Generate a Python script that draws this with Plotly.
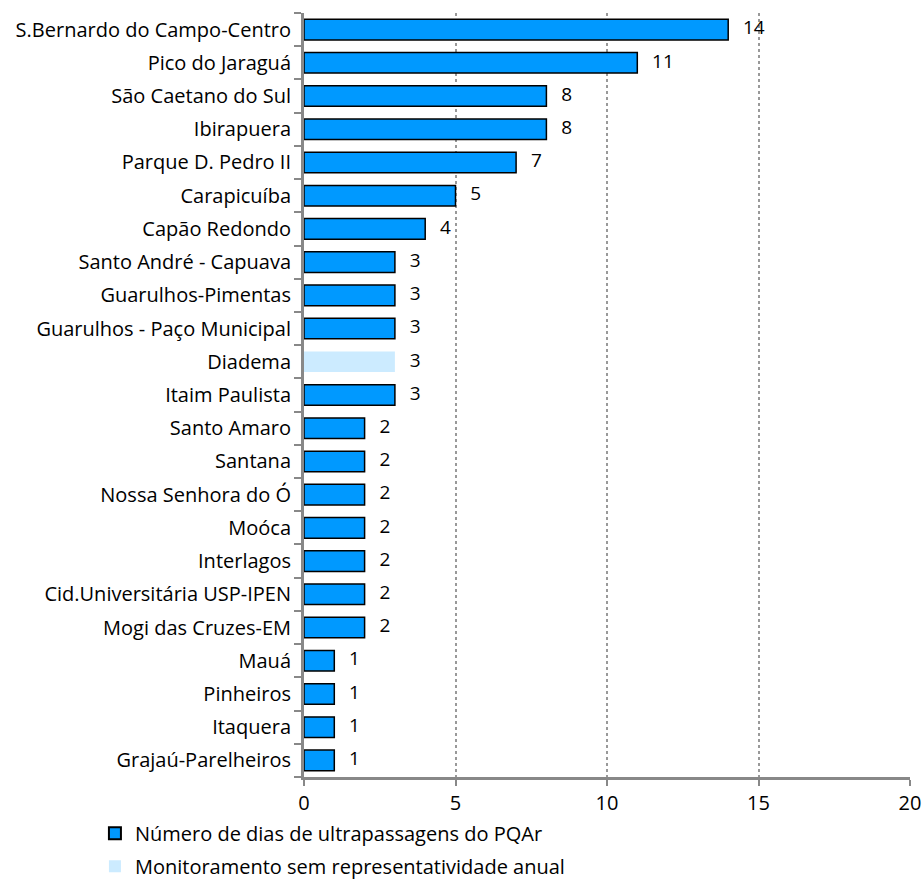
import plotly.graph_objects as go

stations = ["S.Bernardo do Campo-Centro", "Pico do Jaraguá", "São Caetano do Sul", "Ibirapuera",
            "Parque D. Pedro II", "Carapicuíba", "Capão Redondo", "Santo André - Capuava",
            "Guarulhos-Pimentas", "Guarulhos - Paço Municipal", "Diadema", "Itaim Paulista",
            "Santo Amaro", "Santana", "Nossa Senhora do Ó", "Moóca", "Interlagos",
            "Cid.Universitária USP-IPEN", "Mogi das Cruzes-EM", "Mauá", "Pinheiros",
            "Itaquera", "Grajaú-Parelheiros"]
days = [14, 11, 8, 8, 7, 5, 4, 3, 3, 3, 3, 3, 2, 2, 2, 2, 2, 2, 2, 1, 1, 1, 1]
non_representative = ["Diadema"]

main_y = [s for s in stations if s not in non_representative]
main_x = [d for s, d in zip(stations, days) if s not in non_representative]
nr_y = [s for s in stations if s in non_representative]
nr_x = [d for s, d in zip(stations, days) if s in non_representative]

FONT = "Open Sans"
FS = 20

fig = go.Figure()
fig.add_trace(go.Bar(
    y=main_y, x=main_x, orientation="h",
    name="Número de dias de ultrapassagens do PQAr", legendgroup="a",
    marker=dict(color="#0099FF", line=dict(color="black", width=1.5)),
))
fig.add_trace(go.Bar(
    y=nr_y, x=nr_x, orientation="h",
    name="Monitoramento sem representatividade anual", legendgroup="b",
    marker=dict(color="#CCEBFF", line=dict(width=0)),
))
# value labels
fig.add_trace(go.Scatter(
    y=stations, x=days, mode="text", text=[f"   {d}" for d in days],
    textposition="middle right", textfont=dict(size=FS - 1, color="black", family=FONT),
    showlegend=False, cliponaxis=False, hoverinfo="skip",
))

fig.update_layout(
    width=924, height=880,
    margin=dict(l=304, r=14, t=13, b=103, autoexpand=False),
    barmode="overlay",
    bargap=0.38,
    plot_bgcolor="white", paper_bgcolor="white",
    font=dict(family=FONT, size=FS, color="black"),
    showlegend=True,
    legend=dict(
        x=-0.345, y=-0.048, xanchor="left", yanchor="top",
        font=dict(size=FS, family=FONT), tracegroupgap=4,
        itemsizing="constant", bgcolor="rgba(0,0,0,0)",
    ),
)
fig.update_xaxes(
    range=[0, 20], dtick=5, showgrid=True, gridcolor="#999999", griddash="dot", gridwidth=1.5,
    showline=True, linecolor="#888888", linewidth=3, ticks="outside", ticklen=6,
    tickcolor="#888888", tickwidth=2, zeroline=False, tickfont=dict(size=FS),
    automargin=False,
)
fig.update_yaxes(
    categoryorder="array", categoryarray=stations[::-1], range=[-0.5, len(stations) - 0.5],
    showline=True, linecolor="#888888", linewidth=3, ticks="outside", ticklen=7,
    tickcolor="#888888", tickwidth=2, tickson="boundaries", showgrid=False,
    tickfont=dict(size=FS), ticklabelstandoff=6, automargin=False,
)

fig.write_html(
    "out.html",
    config={"displayModeBar": False},
    post_script="document.body.style.margin='0';document.body.style.overflow='hidden';",
)
